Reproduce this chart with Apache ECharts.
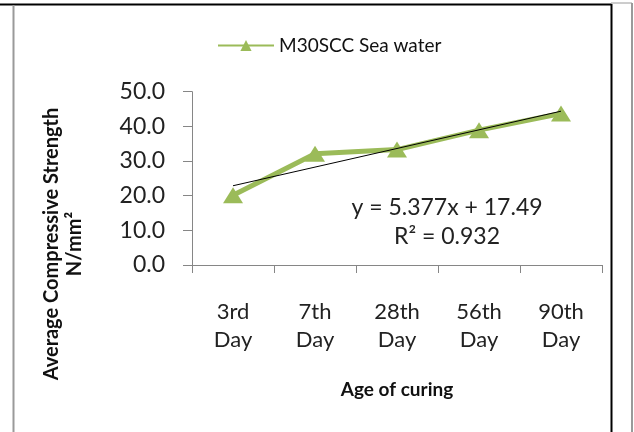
<!DOCTYPE html>
<html>
<head>
<meta charset="utf-8">
<script src="https://cdn.jsdelivr.net/npm/echarts@6/dist/echarts.min.js"></script>
<style>html,body{margin:0;padding:0;background:#fff;}#c{width:634px;height:432px;}</style>
</head>
<body>
<div id="c"></div>
<script>
const categories = ['3rd\nDay', '7th\nDay', '28th\nDay', '56th\nDay', '90th\nDay'];
const strength = [20.1, 32.1, 33.3, 38.9, 43.7];
const trendSlope = 5.377;
const trendIntercept = 17.49;
const trendR2 = 0.932;
const yTicks = [0, 10, 20, 30, 40, 50];
const yTitle = 'Average Compressive Strength\nN/mm²';
const xTitle = 'Age of curing';

const trend = categories.map((c, i) => +(trendSlope * (i + 1) + trendIntercept).toFixed(3));
const FONT = 'Lato';
const chart = echarts.init(document.getElementById('c'));
chart.setOption({
  animation: false,
  backgroundColor: '#fff',
  textStyle: { fontFamily: FONT },
  grid: { left: 192, right: 32, top: 91.7, bottom: 167, containLabel: false },
  legend: {
    data: ['M30SCC Sea water'],
    left: 212, top: 31,
    itemWidth: 56, itemHeight: 14,
    textStyle: { fontFamily: FONT, fontSize: 19, color: '#111' }
  },
  xAxis: {
    type: 'category',
    data: categories,
    boundaryGap: true,
    axisLine: { lineStyle: { color: '#868686', width: 1 } },
    axisTick: { show: true, length: 8, lineStyle: { color: '#868686' } },
    axisLabel: { fontFamily: FONT, fontSize: 22, color: '#222', lineHeight: 28, margin: 33, interval: 0 },
    name: xTitle,
    nameLocation: 'middle',
    nameGap: 115,
    nameTextStyle: { fontFamily: FONT, fontSize: 19, fontWeight: 'bold', color: '#111' }
  },
  yAxis: {
    type: 'value',
    min: yTicks[0], max: yTicks[yTicks.length - 1], interval: 10,
    axisLine: { show: true, lineStyle: { color: '#868686', width: 1 } },
    axisTick: { show: true, length: 9, lineStyle: { color: '#868686' } },
    splitLine: { show: false },
    axisLabel: { fontFamily: FONT, fontSize: 23, color: '#222', margin: 27, formatter: v => v.toFixed(1) }
  },
  series: [
    {
      name: 'M30SCC Sea water',
      type: 'line',
      data: strength,
      lineStyle: { color: '#9BBB59', width: 5 },
      itemStyle: { color: '#9BBB59' },
      symbol: 'triangle',
      symbolSize: [20, 16],
      z: 2
    },
    {
      name: 'trend',
      type: 'line',
      data: trend,
      lineStyle: { color: '#000', width: 1 },
      symbol: 'none',
      silent: true,
      z: 3
    }
  ],
  graphic: [
    { type: 'text', x: 63, y: 244, rotation: Math.PI / 2, style: { text: yTitle, fontFamily: FONT, fontSize: 20, fontWeight: 'bold', fill: '#111', lineHeight: 23, textAlign: 'center', textVerticalAlign: 'middle' } },
    { type: 'text', x: 447, y: 208, style: { text: 'y = ' + trendSlope + 'x + ' + trendIntercept, fontFamily: FONT, fontSize: 23, fill: '#222', textAlign: 'center', textVerticalAlign: 'middle' } },
    { type: 'text', x: 447, y: 237, style: { text: 'R² = ' + trendR2, fontFamily: FONT, fontSize: 23, fill: '#222', textAlign: 'center', textVerticalAlign: 'middle' } },
    { type: 'line', shape: { x1: 0, y1: 4.5, x2: 611.5, y2: 4.5 }, style: { stroke: '#000', lineWidth: 2 } },
    { type: 'line', shape: { x1: 611.5, y1: 4, x2: 611.5, y2: 432 }, style: { stroke: '#000', lineWidth: 2 } },
    { type: 'line', shape: { x1: 13.5, y1: 5, x2: 13.5, y2: 432 }, style: { stroke: '#9a9a9a', lineWidth: 2 } },
    { type: 'line', shape: { x1: 632, y1: 3, x2: 632, y2: 432 }, style: { stroke: '#9a9a9a', lineWidth: 2 } },
    { type: 'line', shape: { x1: 611, y1: 3, x2: 632, y2: 3 }, style: { stroke: '#9a9a9a', lineWidth: 1 } }
  ]
});
</script>
</body>
</html>
